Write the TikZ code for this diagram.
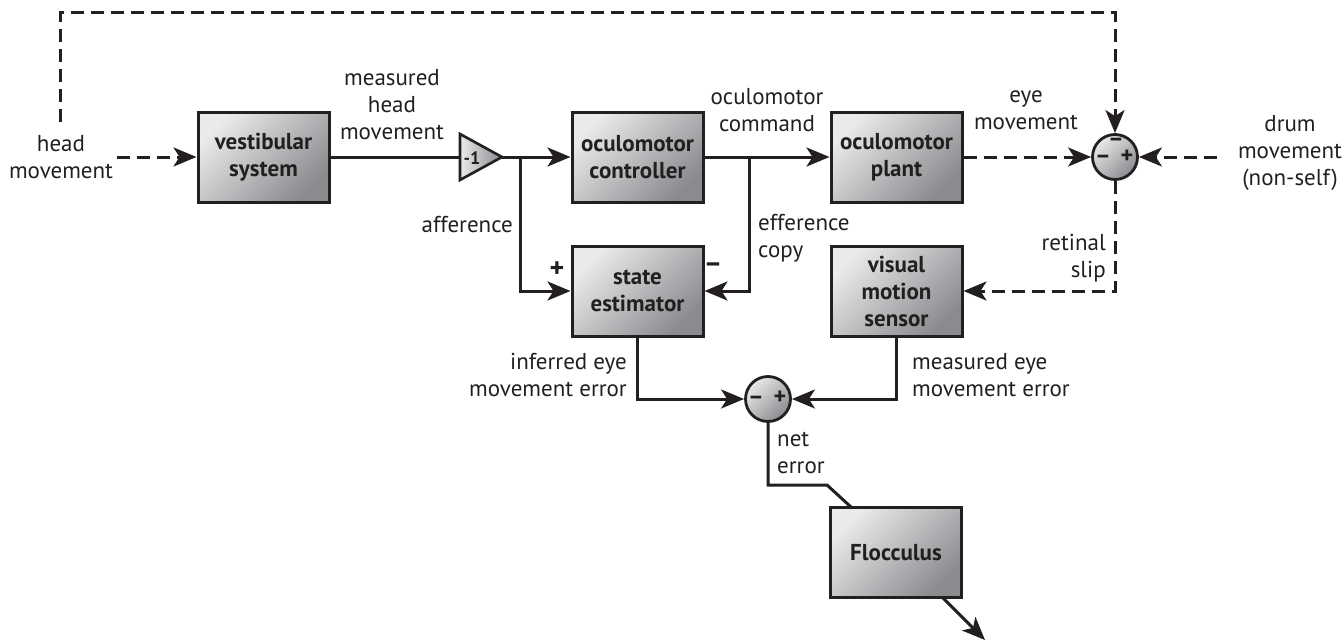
\documentclass[tikz,border=0pt]{standalone}
\usepackage{fontspec}
\setmainfont{PT Sans}
\usetikzlibrary{arrows.meta,calc}
\definecolor{ink}{HTML}{231F20}
\definecolor{lite}{HTML}{E9EAEB}
\definecolor{dark}{HTML}{898B8E}
\tikzset{
  blk/.style={draw=ink, line width=3pt, minimum width=131pt, minimum height=90pt,
    top color=lite, bottom color=dark, shading angle=45,
    font=\fontsize{23}{27}\selectfont\bfseries, align=center, text=ink, inner sep=0pt},
  sumc/.style={circle, draw=ink, line width=2.8pt, minimum size=45pt, inner sep=0pt,
    top color=lite, bottom color=dark, shading angle=45},
  lbl/.style={font=\fontsize{23}{27}\selectfont, text=ink, inner sep=0pt},
  sgn/.style={font=\fontsize{28}{28}\selectfont\bfseries, text=ink, inner sep=0pt},
  csgn/.style={font=\fontsize{24}{24}\selectfont\bfseries, text=ink, inner sep=0pt,
    text height=9pt, text depth=0pt},
  con/.style={draw=ink, line width=3pt},
  arr/.style={-{Stealth[length=23pt,width=19pt,inset=6pt]}},
  dsh/.style={dash pattern=on 13pt off 7pt},
}
\begin{document}
\begin{tikzpicture}[x=1pt,y=-1pt]
\useasboundingbox (0,0) rectangle (1344,642);
% blocks
\node[blk] (vest) at (263.5,157) {vestibular\\system};
\node[blk] (ctrl) at (637.5,157) {oculomotor\\controller};
\node[blk] (plant) at (896.5,157) {oculomotor\\plant};
\node[blk] (state) at (637.5,291) {state\\estimator};
\node[blk] (vis) at (896.5,291) {visual\\motion\\sensor};
\node[blk] (floc) at (896,552.5) {Flocculus};
% gain triangle
\draw[draw=ink, line width=2.6pt, left color=lite, right color=dark] (460,134) -- (502,157) -- (460,180) -- cycle;
\coordinate (triin) at (460,157);
\coordinate (triout) at (502,157);
\node[font=\fontsize{18}{18}\selectfont\bfseries, text=ink, inner sep=0pt] (tri) at (472,158) {-1};
% sum junctions
\node[sumc] (s1) at (1115,157) {};
\node[csgn] (s1t) at (1116,142) {–};
\node[csgn] (s1l) at (1103,159) {–};
\node[csgn] (s1r) at (1127,159) {+};
\node[sumc] (s2) at (768,399) {};
\node[csgn] (s2l) at (756,400) {–};
\node[csgn] (s2r) at (780,400) {+};
% free ends
\coordinate (hmin) at (117,157);
\coordinate (hmtop) at (60,122);
\coordinate (topl) at (60,13);
\coordinate (drum) at (1217,157);
\coordinate (j1) at (520,157);
\coordinate (j2) at (749,157);
\coordinate (ne1) at (768,485);
\coordinate (ne2) at (827,485);
\coordinate (flin) at (851,507);
\coordinate (flout) at (943,598);
\coordinate (out) at (985,640);
% connectors
\draw[con,dsh,arr] (hmin) -- (vest.west);
\draw[con] (vest.east) -- (triin);
\draw[con,arr] (triout) -- (ctrl.west);
\draw[con,arr] (j1) |- (state.west);
\draw[con,arr] (ctrl.east) -- (plant.west);
\draw[con,arr] (j2) |- (state.east);
\draw[con,dsh,arr] (plant.east) -- (s1.west);
\draw[con,dsh,arr] (drum) -- (s1.east);
\draw[con,dsh,arr] (hmtop) -- (topl) -| (s1.north);
\draw[con,dsh,arr] (s1.south) |- (vis.east);
\draw[con,arr] (state.south) |- (s2.west);
\draw[con,arr] (vis.south) |- (s2.east);
\draw[con] (s2.south) -- (ne1) -- (ne2) -- (flin);
\draw[con,arr] (flout) -- (out);
% labels
\node[lbl, align=center] (lhm) at (61,157) {head\\movement};
\node[lbl, align=center] (lmhm) at (392,105) {measured\\head\\movement};
\node[lbl, align=center] (locm) at (767,110) {oculomotor\\command};
\node[lbl, align=center] (lem) at (1026,110) {eye\\movement};
\node[lbl, align=center] (ldrum) at (1290,153) {drum\\movement\\(non-self)};
\node[lbl, anchor=east] (laff) at (513,225) {afference};
\node[lbl, align=left, anchor=west] (leff) at (758,238) {efference\\copy};
\node[lbl, align=right, anchor=east] (lret) at (1106,258) {retinal\\slip};
\node[lbl, align=right, anchor=east] (linf) at (627,375) {inferred eye\\movement error};
\node[lbl, align=left, anchor=west] (lmeas) at (912,375) {measured eye\\movement error};
\node[lbl, align=left, anchor=west] (lnet) at (777,453) {net\\error};
\node[sgn] (pplus) at (557,270) {+};
\node[sgn] (pminus) at (713,268) {–};
\end{tikzpicture}
\end{document}
